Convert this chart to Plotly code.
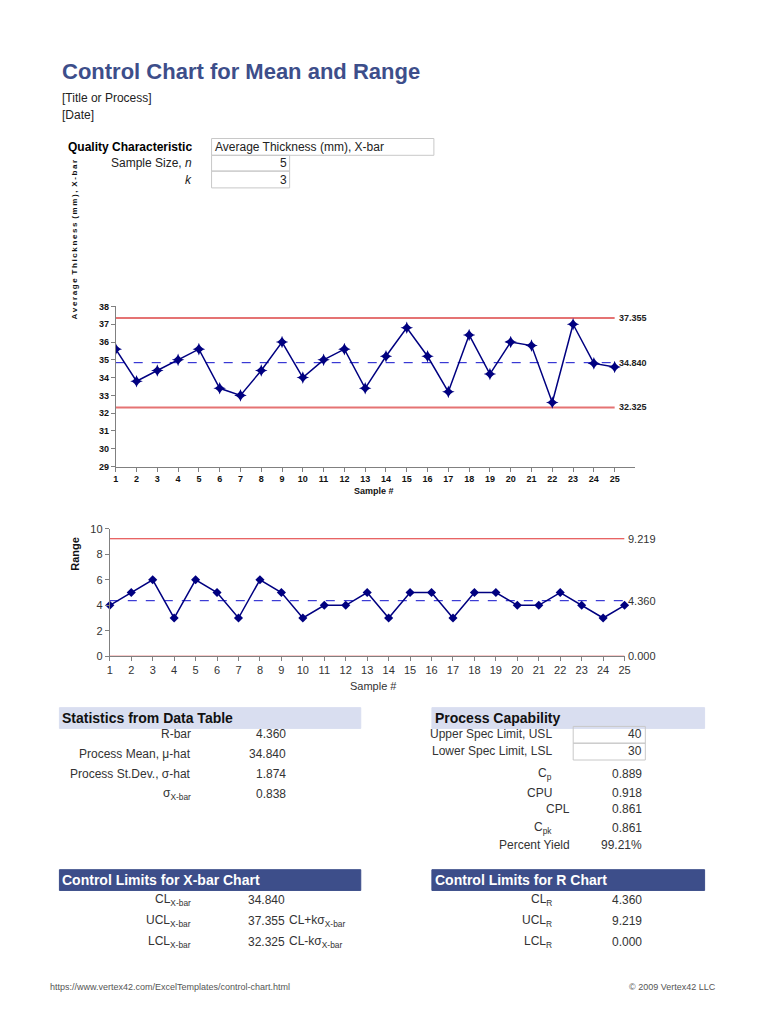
import plotly.graph_objects as go

# ---------------- data ----------------
samples = list(range(1, 26))
xbar_values = [35.6, 33.8, 34.4, 35.0, 35.6, 33.4, 33.0, 34.4, 36.0, 34.0,
               35.0, 35.6, 33.4, 35.2, 36.8, 35.2, 33.2, 36.4, 34.2, 36.0,
               35.8, 32.6, 37.0, 34.8, 34.6]
range_values = [4, 5, 6, 3, 6, 5, 3, 6, 5, 3, 4, 4, 5, 3, 5, 5, 3, 5, 5, 4,
                4, 5, 4, 3, 4]
xbar_limits = {"CL": 34.840, "UCL": 37.355, "LCL": 32.325}
r_limits = {"CL": 4.360, "UCL": 9.219, "LCL": 0.000}
xbar_yticks = list(range(29, 39))
r_yticks = [0, 2, 4, 6, 8, 10]

stats_labels = ["R-bar", "Process Mean, &#956;-hat", "Process St.Dev., &#963;-hat",
                "&#963;<sub>X-bar</sub>"]
stats_values = ["4.360", "34.840", "1.874", "0.838"]
cap_labels = ["Upper Spec Limit, USL", "Lower Spec Limit, LSL", "C<sub>p</sub>", "CPU",
              "CPL", "C<sub>pk</sub>", "Percent Yield"]
cap_values = ["40", "30", "0.889", "0.918", "0.861", "0.861", "99.21%"]
xcl_labels = ["CL<sub>X-bar</sub>", "UCL<sub>X-bar</sub>", "LCL<sub>X-bar</sub>"]
xcl_values = ["34.840", "37.355", "32.325"]
xcl_notes = ["", "CL+k&#963;<sub>X-bar</sub>", "CL-k&#963;<sub>X-bar</sub>"]
rcl_labels = ["CL<sub>R</sub>", "UCL<sub>R</sub>", "LCL<sub>R</sub>"]
rcl_values = ["4.360", "9.219", "0.000"]
xbar_axis_title = "Average Thickness (mm), X-bar"

# ---------------- layout helpers ----------------
PAGE_W, PAGE_H = 768, 1024
BODY_MARGIN = 8           # default browser body margin around the plot div
W, H = PAGE_W - 2 * BODY_MARGIN, PAGE_H - 2 * BODY_MARGIN
FONT = "Liberation Sans, Arial, sans-serif"
NAVY = "#000080"
TITLE_BLUE = "#3D4E8A"


def px(x):
    return (x - BODY_MARGIN) / W


def py(y):
    return 1 - (y - BODY_MARGIN) / H


annotations = []
shapes = []


def text(x, y, s, size=12, anchor="left", color="#222222", bold=False, angle=0):
    annotations.append(dict(
        x=px(x), y=py(y), xref="paper", yref="paper", text=s, showarrow=False,
        xanchor=anchor, yanchor="middle", textangle=angle,
        font=dict(family=FONT, size=size, color=color,
                  weight="bold" if bold else "normal")))


def rect(x0, y0, x1, y1, fill="rgba(0,0,0,0)", line="#C8C8C8"):
    shapes.append(dict(type="rect", xref="paper", yref="paper",
                       x0=px(x0), x1=px(x1), y0=py(y1), y1=py(y0),
                       fillcolor=fill, line=dict(color=line, width=1), layer="below"))


def spaced(s):
    """Letter-spaced text (thin spaces between letters) like the spreadsheet chart title."""
    thin = "\u2009"
    return (" " + thin).join(thin.join(word) for word in s.split(" "))


fig = go.Figure()

# ---------------- X-bar chart ----------------
x_end = samples[-1]
for key, color, dash, width in [("UCL", "#E57373", "solid", 2), ("LCL", "#E57373", "solid", 2),
                                ("CL", "#1010CC", "dash", 1)]:
    fig.add_trace(go.Scatter(x=[samples[0], x_end], y=[xbar_limits[key]] * 2, mode="lines",
                             line=dict(color=color, dash=dash, width=width),
                             xaxis="x", yaxis="y", hoverinfo="skip", showlegend=False))
    annotations.append(dict(x=x_end, y=xbar_limits[key], xref="x", yref="y",
                            text=f"{xbar_limits[key]:.3f}", showarrow=False,
                            xanchor="left", yanchor="middle", xshift=2,
                            font=dict(family=FONT, size=9, color="#222222", weight="bold")))
fig.add_trace(go.Scatter(x=samples, y=xbar_values, mode="lines+markers",
                         line=dict(color=NAVY, width=1.5),
                         marker=dict(symbol="star-diamond", size=9, color=NAVY),
                         xaxis="x", yaxis="y", showlegend=False))

# ---------------- R chart ----------------
for key, color, dash, width in [("UCL", "#E03030", "solid", 1.2), ("LCL", "#E03030", "solid", 1.2),
                                ("CL", "#1010CC", "dash", 1)]:
    fig.add_trace(go.Scatter(x=[samples[0], x_end], y=[r_limits[key]] * 2, mode="lines",
                             line=dict(color=color, dash=dash, width=width),
                             xaxis="x2", yaxis="y2", hoverinfo="skip", showlegend=False,
                             cliponaxis=False))
    annotations.append(dict(x=x_end, y=r_limits[key], xref="x2", yref="y2",
                            text=f"{r_limits[key]:.3f}", showarrow=False,
                            xanchor="left", yanchor="middle", xshift=1,
                            font=dict(family=FONT, size=11, color="#333333")))
fig.add_trace(go.Scatter(x=samples, y=range_values, mode="lines+markers",
                         line=dict(color=NAVY, width=1.5),
                         marker=dict(symbol="diamond", size=7, color=NAVY),
                         xaxis="x2", yaxis="y2", showlegend=False, cliponaxis=False))

axis_common = dict(showgrid=False, zeroline=False, showline=True, linecolor="#808080",
                   linewidth=1, ticks="outside", ticklen=4, tickcolor="#808080",
                   fixedrange=True)

# ---------------- header / tables text ----------------
text(58, 66, "Control Chart for Mean and Range", size=22, color=TITLE_BLUE, bold=True)
text(58, 93, "[Title or Process]", size=12)
text(58, 110, "[Date]", size=12)

text(193, 143, "Quality Characteristic", size=12, anchor="right", bold=True, color="#000000")
text(193, 159, "Sample Size, <i>n</i>", size=12, anchor="right")
text(193, 176, "<i>k</i>", size=12, anchor="right")
rect(211, 134, 436, 151)
rect(211, 151, 290, 167)
rect(211, 167, 290, 184)
text(212, 143, "Average Thickness (mm), X-bar", size=12)
text(289, 159, "5", size=12, anchor="right")
text(289, 176, "3", size=12, anchor="right")

# axis titles
text(72, 236, spaced(xbar_axis_title), size=8, bold=True,
     angle=-90, anchor="center", color="#111111")
text(375, 491, "Sample #", size=9, bold=True, anchor="center", color="#111111")
text(72, 554, "Range", size=11, bold=True, angle=-90, anchor="center", color="#111111")
text(375, 688, "Sample #", size=11, anchor="center", color="#333333")

# Statistics from Data Table
rect(57, 710, 362, 731, fill="#D9DEF0", line="#D9DEF0")
text(58, 720, "Statistics from Data Table", size=14, bold=True, color="#111111")
for i, (lab, val) in enumerate(zip(stats_labels, stats_values)):
    yy = 737 + 20 * i
    text(192, yy, lab, size=12, anchor="right", color="#333333")
    text(288, yy, val, size=12, anchor="right", color="#333333")

# Process Capability
rect(434, 710, 710, 731, fill="#D9DEF0", line="#D9DEF0")
text(435, 720, "Process Capability", size=14, bold=True, color="#111111")
rect(577, 729, 650, 746)
rect(577, 746, 650, 763)
cap_y = [737, 754, 777, 796, 813, 832, 849]
cap_x = [558, 558, 558, 558, 576, 558, 576]
for lab, val, yy, xx in zip(cap_labels, cap_values, cap_y, cap_x):
    text(xx, yy, lab, size=12, anchor="right", color="#333333")
    text(649, yy, val, size=12, anchor="right", color="#333333")

# Control Limits for X-bar Chart
rect(57, 874, 362, 895, fill=TITLE_BLUE, line=TITLE_BLUE)
text(58, 884, "Control Limits for X-bar Chart", size=14, bold=True, color="#FFFFFF")
for i, (lab, val, note) in enumerate(zip(xcl_labels, xcl_values, xcl_notes)):
    yy = 905 + 21 * i
    text(192, yy, lab, size=12, anchor="right", color="#333333")
    text(246, yy, val, size=12, anchor="left", color="#333333")
    if note:
        text(287, yy, note, size=12, anchor="left", color="#333333")

# Control Limits for R Chart
rect(434, 874, 710, 895, fill=TITLE_BLUE, line=TITLE_BLUE)
text(435, 884, "Control Limits for R Chart", size=14, bold=True, color="#FFFFFF")
for i, (lab, val) in enumerate(zip(rcl_labels, rcl_values)):
    yy = 905 + 21 * i
    text(558, yy, lab, size=12, anchor="right", color="#333333")
    text(649, yy, val, size=12, anchor="right", color="#333333")

# footer
text(45, 993, "https://www.vertex42.com/ExcelTemplates/control-chart.html", size=9, color="#555555")
text(724, 993, "&#169; 2009 Vertex42 LLC", size=9, anchor="right", color="#555555")

fig.update_layout(
    width=W, height=H, margin=dict(l=0, r=0, t=0, b=0),
    paper_bgcolor="white", plot_bgcolor="white", showlegend=False,
    xaxis=dict(axis_common, domain=[px(114), px(640)], range=[1, 26],
               tickvals=samples, anchor="y",
               tickfont=dict(family=FONT, size=9, color="#111111", weight="bold")),
    yaxis=dict(axis_common, domain=[py(466), py(304)], range=[29, 38],
               tickvals=xbar_yticks, anchor="x",
               tickfont=dict(family=FONT, size=9, color="#111111", weight="bold")),
    xaxis2=dict(axis_common, domain=[px(108), px(629)], range=[1, 25],
                tickvals=samples, anchor="y2",
                tickfont=dict(family=FONT, size=11, color="#333333")),
    yaxis2=dict(axis_common, domain=[py(658), py(529)], range=[0, 10],
                tickvals=r_yticks, anchor="x2",
                tickfont=dict(family=FONT, size=11, color="#333333")),
    annotations=annotations, shapes=shapes,
)

fig.write_html("out.html", config={"displayModeBar": False})
